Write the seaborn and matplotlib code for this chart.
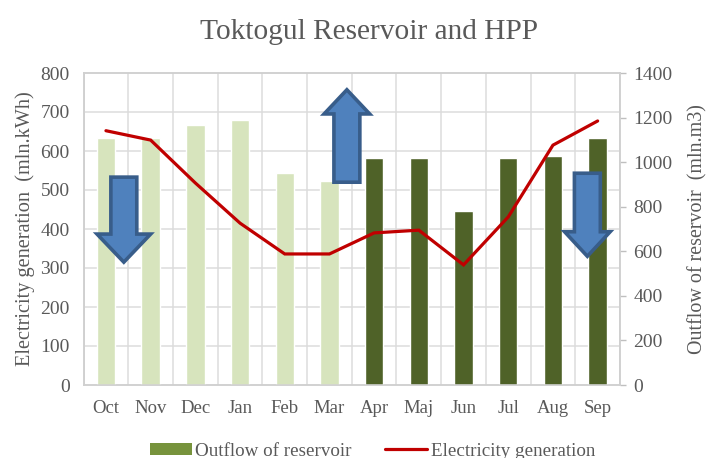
import numpy as np
import pandas as pd
import matplotlib
matplotlib.use("Agg")
import matplotlib.pyplot as plt
from matplotlib.patches import Patch, Polygon
from matplotlib.lines import Line2D
import seaborn as sns

months = ["Oct", "Nov", "Dec", "Jan", "Feb", "Mar", "Apr", "Maj", "Jun", "Jul", "Aug", "Sep"]
outflow = [1108, 1108, 1166, 1188, 950, 915, 1018, 1018, 780, 1018, 1027, 1108]
generation = [652, 628, 518, 415, 336, 336, 390, 397, 308, 431, 615, 677]
phase = ["w"] * 6 + ["s"] * 6

sns.set_theme(style="white")
plt.rcParams["font.family"] = ["Liberation Serif", "DejaVu Serif"]
TXT = "#595959"
GRID = "#dcdcdc"
W, H = 706, 458
fig = plt.figure(figsize=(W / 100, H / 100), dpi=100, facecolor="white")
ax = fig.add_axes([83.6 / W, (H - 385) / H, 536.4 / W, 312 / H])
ax2 = ax.twinx()
ax2.set_zorder(1)
ax.set_zorder(2)
ax.patch.set_visible(False)

df = pd.DataFrame({"month": months, "outflow": outflow, "phase": phase})
sns.barplot(data=df, x="month", y="outflow", hue="phase", dodge=False, width=0.41,
            palette={"w": "#d7e4bd", "s": "#4f6228"}, legend=False, ax=ax2, zorder=3, saturation=1)
sns.lineplot(x=np.arange(12), y=generation, color="#c00000", linewidth=2.3, ax=ax,
             solid_capstyle="round", solid_joinstyle="miter", zorder=4)

ax.set_xlim(-0.5, 11.5)
ax.set_ylim(0, 800)
ax2.set_ylim(0, 1400)
ax.set_xticks(np.arange(12), months)
ax.set_yticks(np.arange(0, 801, 100))
ax2.set_yticks(np.arange(0, 1401, 200))
ax2.set_yticks(np.arange(0, 1401, 175), minor=True)
ax2.set_xticks(np.arange(-0.5, 12, 1), minor=True)
ax2.yaxis.grid(True, which="minor", color=GRID, lw=1.1, zorder=0)
ax2.xaxis.grid(True, which="minor", color=GRID, lw=1.1, zorder=0)
ax2.set_axisbelow(True)
ax2.set_xlabel("")
ax2.xaxis.set_visible(True)

ax.tick_params(axis="x", length=0, labelsize=13.5, labelcolor=TXT, pad=11)
ax.tick_params(axis="y", length=0, labelsize=14, labelcolor=TXT, pad=10)
ax2.tick_params(axis="y", which="major", length=4.5, width=1, color="#bfbfbf", labelsize=14, labelcolor=TXT, pad=5, right=True)
ax2.tick_params(axis="both", which="minor", length=0)
ax2.tick_params(axis="x", labelbottom=False, bottom=False)
for a in (ax, ax2):
    for s in a.spines.values():
        s.set_color("#d0d0d0")
        s.set_linewidth(1.1)
ax.set_xlabel("")
ax.set_ylabel("Electricity generation  (mln.kWh)", fontsize=14.6, color=TXT, labelpad=4)
ax2.set_ylabel("Outflow of reservoir  (mln.m3)", fontsize=14.4, color=TXT, labelpad=11)
fig.text(369 / W, 1 - 32 / H, "Toktogul Reservoir and HPP", ha="center", va="center",
         fontsize=21.2, color=TXT)

# block arrows: centre (category units), tail and tip (left-axis units)
arrow_x = [0.4, 5.39, 10.77]
arrow_tail = [533, 520, 543]
arrow_tip = [315, 757, 330]
arrow_head_base = [387, 695, 393]
arrow_head_half = [0.6, 0.51, 0.51]
shaft_half = 0.29
for cx, t, tip, hb, hh in zip(arrow_x, arrow_tail, arrow_tip, arrow_head_base, arrow_head_half):
    pts = [(cx - shaft_half, t), (cx + shaft_half, t), (cx + shaft_half, hb), (cx + hh, hb),
           (cx, tip), (cx - hh, hb), (cx - shaft_half, hb)]
    ax.add_patch(Polygon(pts, closed=True, facecolor="#4f81bd", edgecolor="#385d8a", lw=2.6,
                         joinstyle="miter", zorder=6, clip_on=False))

handles = [Patch(facecolor="#77933c", edgecolor="none"),
           Line2D([], [], color="#c00000", lw=2.3)]
fig.legend(handles, ["Outflow of reservoir", "Electricity generation"], loc="center",
           bbox_to_anchor=(372.5 / W, 1 - 451 / H), ncol=2, frameon=False, fontsize=13.7,
           labelcolor=TXT, handlelength=2.2, handleheight=0.55, handletextpad=0.2, columnspacing=1.75,
           borderpad=0, borderaxespad=0)
fig.savefig("out.png", dpi=100, facecolor="white")
